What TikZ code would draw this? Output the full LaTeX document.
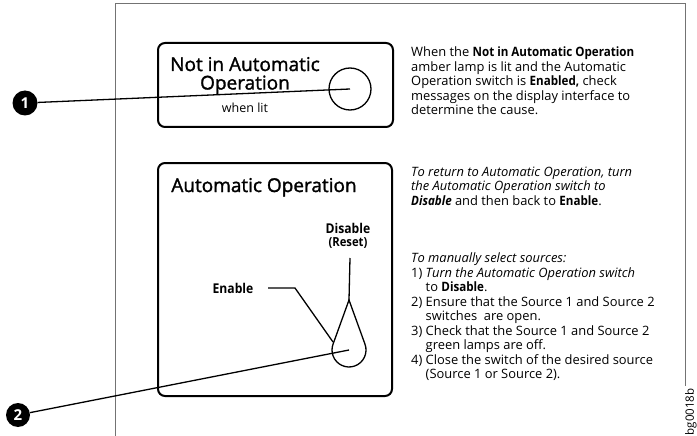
\documentclass[tikz,border=0pt]{standalone}
\usepackage{fontspec}
\setmainfont{Open Sans}
\newcommand\bb[1]{\scalebox{0.9}[1]{\bfseries #1}}
\begin{document}
\begin{tikzpicture}[x=1pt,y=-1pt,
  frame/.style={draw=black!55,line width=0.9pt},
  panel/.style={draw=black,line width=2pt,rounded corners=7pt},
  thin/.style={draw=black,line width=1.3pt},
  title/.style={inner sep=0pt,align=center,font=\fontsize{19}{18.5}\selectfont\addfontfeature{FakeBold=1.5}},
  callout/.style={circle,fill=black,text=white,inner sep=0pt,minimum size=25pt,font=\bfseries\fontsize{15}{15}\selectfont},
  body/.style={anchor=north west,inner sep=0pt,align=left,font=\fontsize{12.9}{14.5}\selectfont},
  every node/.style={text=black}]
\useasboundingbox (0,0) rectangle (697,436);
% frame
\draw[frame] (115,436) -- (115,3) -- (685,3) -- (685,386);
\node[rotate=90,inner sep=0pt,font=\fontsize{11.5}{11.5}\selectfont] (code) at (691,412) {bg0018b};
% panel 1
\draw[panel] (158,43) rectangle (393,127);
\node[circle,draw,line width=1.3pt,minimum size=42pt,inner sep=0pt] (lamp) at (350,89) {};
\node[title,anchor=base] (t1) at (245,89.5) {Not in Automatic\\Operation};
\node[inner sep=0pt,font=\fontsize{12.5}{12.5}\selectfont] (lit) at (245,108) {when lit};
% panel 2
\draw[panel] (158,163) rectangle (392,396);
\node[title,anchor=base] (t2) at (264,192) {Automatic Operation};
\node[inner sep=0pt,font=\fontsize{13.5}{13.5}\selectfont] (dis) at (348,228) {\bb{Disable}};
\node[inner sep=0pt,font=\fontsize{12.5}{12.5}\selectfont] (rst) at (348,243) {\bb{(Reset)}};
\node[inner sep=0pt,font=\fontsize{13.5}{13.5}\selectfont] (en) at (233,288) {\bb{Enable}};
\coordinate (tip) at (349,300);
\coordinate (top) at (350,258);
\coordinate (drop) at (349,350);
\draw[thin] (top) -- (tip);
\draw[thin] (tip) -- (365,344.2) arc[start angle=-19.9,end angle=199.9,radius=17] -- cycle;
\coordinate (ens) at (268,288);
\coordinate (enk) at (295,288);
\coordinate (ene) at (333,342);
\draw[thin] (ens) -- (enk) -- (ene);
% callouts
\node[callout] (c1) at (25,103) {1};
\node[callout,minimum size=24pt] (c2) at (18,415) {2};
\draw[thin] (c1) -- (lamp.center);
\draw[thin] (c2) -- (drop);
% texts
\node[body] (p1) at (411,46.5) {When the \bb{Not in Automatic Operation}\\
amber lamp is lit and the Automatic\\
Operation switch is \bb{Enabled,} check\\
messages on the display interface to\\
determine the cause.};
\node[body] (p2) at (411,166.5) {\textit{To return to Automatic Operation, turn}\\
\textit{the Automatic Operation switch to}\\
\bb{\itshape Disable} and then back to \bb{Enable}.};
\node[body] (p3) at (411,252.5) {\textit{To manually select sources:}\\
1) \textit{Turn the Automatic Operation switch}\\
\hphantom{1) }to \bb{Disable}.\\
2) Ensure that the Source 1 and Source 2\\
\hphantom{2) }switches\ \ are open.\\
3) Check that the Source 1 and Source 2\\
\hphantom{3) }green lamps are off.\\
4) Close the switch of the desired source\\
\hphantom{4) }(Source 1 or Source 2).};
\end{tikzpicture}
\end{document}
